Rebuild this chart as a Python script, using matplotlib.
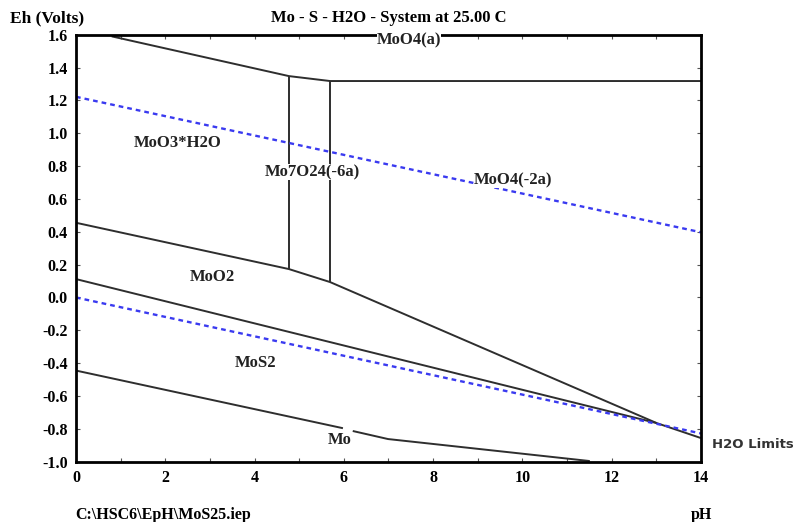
"""
Pourbaixův diagram Mo - S - H2O při 25 °C (překreslení výstupu HSC6 EpH).
"""
import matplotlib.pyplot as plt
from matplotlib.ticker import MultipleLocator

plt.rcParams['font.family'] = ['Liberation Serif', 'DejaVu Serif']
plt.rcParams['font.weight'] = 'bold'

# ── Hranice oblastí (pH, Eh) ─────────────────────────────────────────────────
moo3_top_ph = [0.8, 4.77, 5.69, 14.0]
moo3_top_eh = [1.59, 1.348, 1.318, 1.318]

mo7_left_ph = [4.77, 4.77]
mo7_left_eh = [1.348, 0.173]
mo7_right_ph = [5.69, 5.69]
mo7_right_eh = [1.318, 0.094]

moo2_top_ph = [0.0, 4.77, 5.69, 13.01, 14.0]
moo2_top_eh = [0.455, 0.173, 0.094, -0.765, -0.856]

mos2_top_ph = [0.0, 13.01]
mos2_top_eh = [0.112, -0.765]

mo_a_ph = [0.0, 5.98]
mo_a_eh = [-0.445, -0.796]
mo_b_ph = [6.2, 6.99, 11.51]
mo_b_eh = [-0.813, -0.862, -0.996]

# meze stability vody
h2o_ph = [0.0, 14.0]
h2o_o2 = [1.222, 0.397]
h2o_h2 = [0.0, -0.828]

labels = ["MoO4(a)", "MoO3*H2O", "Mo7O24(-6a)", "MoO4(-2a)", "MoO2", "MoS2", "Mo"]
label_ph = [7.46, 2.28, 5.29, 9.79, 3.05, 4.03, 5.91]
label_eh = [1.566, 0.940, 0.764, 0.715, 0.124, -0.399, -0.868]
label_box = [True, False, True, True, False, False, False]

# ── Graf ──────────────────────────────────────────────────────────────────────
fig = plt.figure(figsize=(7.99, 5.22), dpi=100)
ax = fig.add_axes([0.0951, 0.1155, 0.7822, 0.818])

lc = '#2e2e2e'
kw = dict(color=lc, lw=1.4, solid_capstyle='butt')
ax.plot(moo3_top_ph, moo3_top_eh, **kw)
ax.plot(mo7_left_ph, mo7_left_eh, **kw)
ax.plot(mo7_right_ph, mo7_right_eh, **kw)
ax.plot(moo2_top_ph, moo2_top_eh, **kw)
ax.plot(mos2_top_ph, mos2_top_eh, **kw)
ax.plot(mo_a_ph, mo_a_eh, **kw)
ax.plot(mo_b_ph, mo_b_eh, **kw)

wkw = dict(color='#3a3af0', lw=1.7, ls=(0, (2.0, 1.7)))
ax.plot(h2o_ph, h2o_o2, **wkw)
ax.plot(h2o_ph, h2o_h2, **wkw)

for t, x, y, box in zip(labels, label_ph, label_eh, label_box):
    bb = dict(facecolor='white', edgecolor='none', pad=0.1) if box else None
    ax.text(x, y, t, ha='center', va='center', fontsize=12, color='#222222',
            bbox=bb, zorder=5, clip_on=False)

ax.set_xlim(0, 14)
ax.set_ylim(-1.0, 1.6)
ax.xaxis.set_major_locator(MultipleLocator(2))
ax.xaxis.set_minor_locator(MultipleLocator(1))
ax.yaxis.set_major_locator(MultipleLocator(0.2))
ax.yaxis.set_major_formatter(plt.FuncFormatter(lambda v, p: f"{v:.1f}"))
ax.tick_params(which='both', direction='in', top=True, right=True,
               length=3, width=0.8, color='#555555', labelsize=11.5, pad=6)
for s in ax.spines.values():
    s.set_linewidth(2.0)
    s.set_zorder(4)

fig.text(0.012, 1 - 18 / 522, "Eh (Volts)", ha='left', va='center', fontsize=12.5)
fig.text(389 / 799, 1 - 18 / 522, "Mo - S - H2O - System at 25.00 C",
         ha='center', va='center', fontsize=12)
fig.text(712 / 799, 1 - 445 / 522, "H2O Limits", ha='left', va='center',
         fontsize=9.5, family='DejaVu Sans', color='#333333')
fig.text(75 / 799, 1 - 515 / 522, r"C:\HSC6\EpH\MoS25.iep", ha='left',
         va='center', fontsize=11.5)
fig.text(701 / 799, 1 - 515 / 522, "pH", ha='center', va='center', fontsize=11.5)

fig.savefig("out.png", dpi=100)
